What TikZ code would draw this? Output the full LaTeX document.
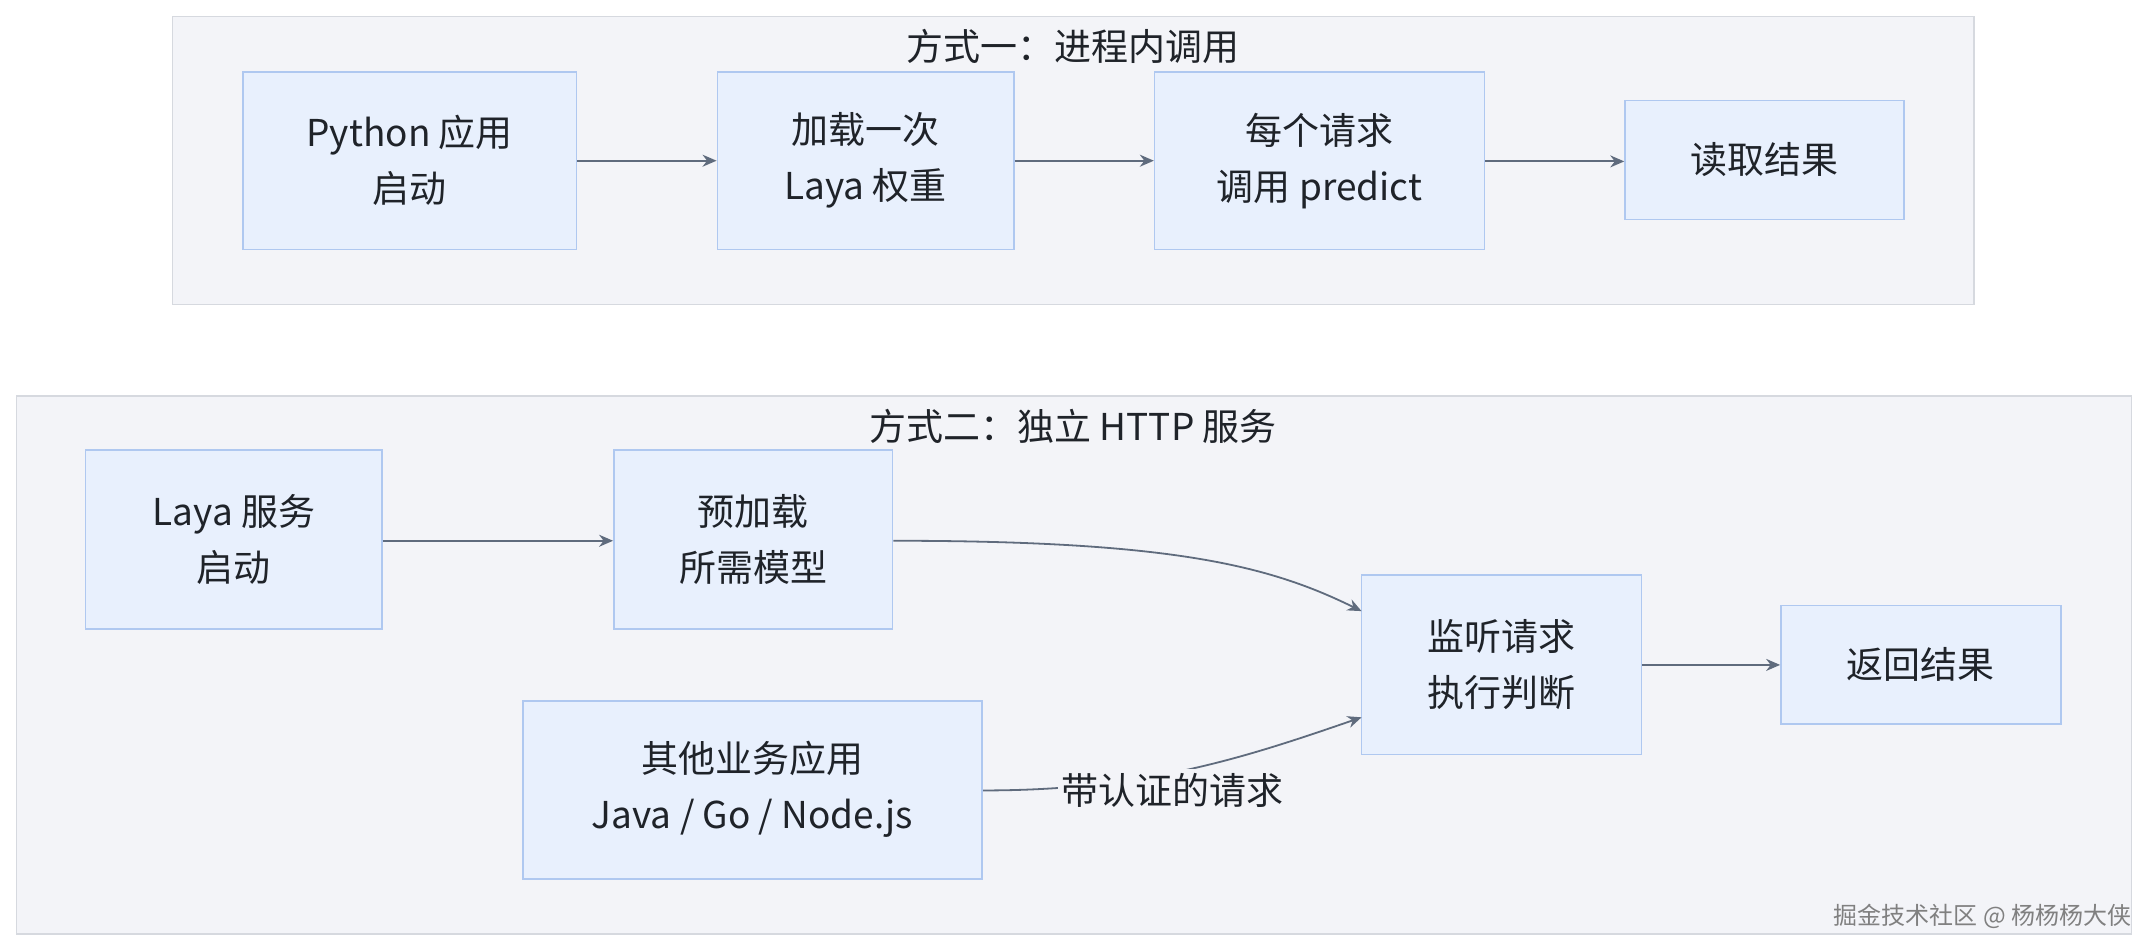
\documentclass[tikz,border=0pt]{standalone}
\usepackage{fontspec}
\setmainfont{Noto Sans CJK SC}
\usetikzlibrary{arrows.meta}
\definecolor{bgc}{HTML}{F3F4F8}
\definecolor{bdc}{HTML}{D6D9DF}
\definecolor{nf}{HTML}{E8F0FD}
\definecolor{nb}{HTML}{AFC8F0}
\definecolor{ac}{HTML}{5F6B7D}
\definecolor{tc}{HTML}{1F2329}
\begin{document}
\begin{tikzpicture}[x=0.69pt,y=-0.69pt,
  grp/.style={draw=bdc,fill=bgc,line width=0.6pt},
  box/.style={draw=nb,fill=nf,line width=0.8pt,text=tc,font=\fontsize{18.5}{28}\selectfont,align=center},
  ttl/.style={text=tc,font=\fontsize{18.5}{22}\selectfont},
  arr/.style={draw=ac,line width=0.9pt,-{Stealth[length=7pt,width=6pt]}}]
\useasboundingbox (0,0) rectangle (1560,690);
\fill[white] (0,0) rectangle (1560,690);
\draw[grp] (125,12) rectangle (1431,221);
\node[ttl] (t1) at (778,34) {方式一：进程内调用};
\draw[grp] (12,287) rectangle (1545,677);
\node[ttl] (t2) at (778,309) {方式二：独立 HTTP 服务};
\newcommand{\bx}[6]{\node[box,minimum width={(#4-#2)*0.69pt},minimum height={(#5-#3)*0.69pt},inner sep=0pt] (#1) at ({(#2+#4)/2},{(#3+#5)/2}) {#6};}
\bx{A}{176}{52}{418}{181}{Python 应用\\启动}
\bx{B}{520}{52}{735}{181}{加载一次\\Laya 权重}
\bx{C}{837}{52}{1076}{181}{每个请求\\调用 predict}
\bx{D}{1178}{73}{1380}{159}{读取结果}
\bx{E}{62}{326}{277}{456}{Laya 服务\\启动}
\bx{F}{445}{326}{647}{456}{预加载\\所需模型}
\bx{G}{987}{417}{1190}{547}{监听请求\\执行判断}
\bx{H}{1291}{439}{1494}{525}{返回结果}
\bx{I}{379}{508}{712}{637}{其他业务应用\\Java / Go / Node.js}
\draw[arr] (A.east) -- (B.west);
\draw[arr] (B.east) -- (C.west);
\draw[arr] (C.east |- 0,117) -- (D.west |- 0,117);
\draw[arr] (E.east |- 0,392) -- (F.west |- 0,392);
\draw[arr] (F.east |- 0,392) .. controls (850,392) and (920,410) .. (987,443);
\draw[arr] (G.east |- 0,482) -- (H.west |- 0,482);
\draw[arr] (I.east |- 0,573) .. controls (830,573) and (900,550) .. (987,520);
\node[fill=bgc,text=tc,font=\fontsize{18.5}{22}\selectfont,inner sep=2pt] (L) at (850,573) {带认证的请求};
\node[text=gray,font=\fontsize{12}{14}\selectfont,anchor=east] (W) at (1550,664) {掘金技术社区 @ 杨杨杨大侠};
\end{tikzpicture}
\end{document}
